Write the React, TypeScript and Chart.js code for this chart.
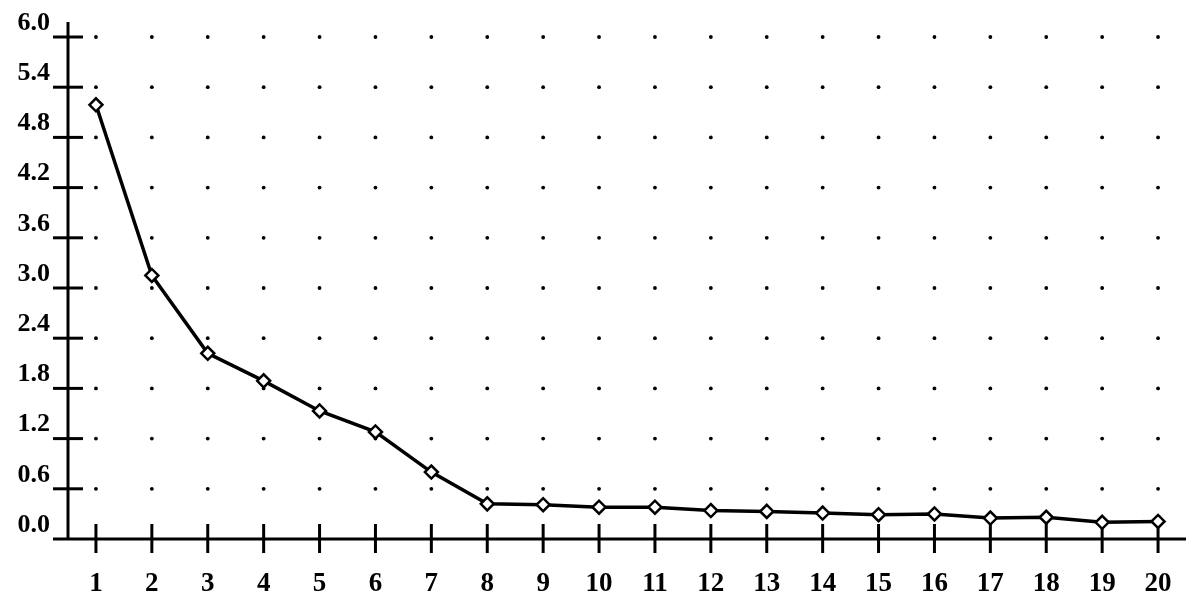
import { useEffect, useRef } from "react";
import { Chart, registerables } from "chart.js";

Chart.register(...registerables);

const components = ["1", "2", "3", "4", "5", "6", "7", "8", "9", "10", "11", "12", "13", "14", "15", "16", "17", "18", "19", "20"];
const eigenvalues = [5.19, 3.15, 2.22, 1.89, 1.53, 1.28, 0.8, 0.42, 0.41, 0.38, 0.38, 0.34, 0.33, 0.31, 0.29, 0.3, 0.25, 0.26, 0.2, 0.21];
const yTickValues = [0.0, 0.6, 1.2, 1.8, 2.4, 3.0, 3.6, 4.2, 4.8, 5.4, 6.0];

const dotAxesPlugin = {
  id: "dotAxes",
  beforeDatasetsDraw(chart: any) {
    const { ctx, scales } = chart;
    const xs = scales.x;
    const ys = scales.y;
    const left = chart.chartArea.left;
    const right = chart.chartArea.right;
    const y0 = ys.getPixelForValue(0);
    const yTop = ys.getPixelForValue(6.0);
    ctx.save();
    ctx.fillStyle = "#000";
    ctx.strokeStyle = "#000";
    // grid dots
    for (let i = 0; i < components.length; i++) {
      const px = xs.getPixelForValue(i);
      for (const v of yTickValues) {
        if (v === 0) continue;
        const py = ys.getPixelForValue(v);
        ctx.beginPath();
        ctx.arc(px, py, 1.9, 0, Math.PI * 2);
        ctx.fill();
      }
    }
    // y axis line
    ctx.lineWidth = 3;
    ctx.beginPath();
    ctx.moveTo(left, yTop - 15);
    ctx.lineTo(left, y0);
    ctx.stroke();
    // x axis line
    ctx.beginPath();
    ctx.moveTo(left - 15, y0);
    ctx.lineTo(right, y0);
    ctx.stroke();
    // y ticks (crossing)
    for (const v of yTickValues) {
      if (v === 0) continue;
      const py = ys.getPixelForValue(v);
      ctx.beginPath();
      ctx.moveTo(left - 15, py);
      ctx.lineTo(left + 15, py);
      ctx.stroke();
    }
    // x ticks (crossing)
    for (let i = 0; i < components.length; i++) {
      const px = xs.getPixelForValue(i);
      ctx.beginPath();
      ctx.moveTo(px, y0 - 15);
      ctx.lineTo(px, y0 + 14);
      ctx.stroke();
    }
    ctx.restore();
  },
};

export default function App() {
  const canvasRef = useRef<HTMLCanvasElement | null>(null);

  useEffect(() => {
    if (!canvasRef.current) return;
    const chart = new Chart(canvasRef.current, {
      type: "line",
      data: {
        labels: components,
        datasets: [
          {
            data: eigenvalues,
            borderColor: "#000",
            borderWidth: 3.5,
            pointStyle: "rectRot",
            pointRadius: 6.5,
            pointBorderWidth: 2.5,
            pointBackgroundColor: "#fff",
            pointBorderColor: "#000",
            tension: 0,
          },
        ],
      },
      options: {
        animation: false,
        responsive: true,
        maintainAspectRatio: false,
        layout: { padding: { top: 37, right: 8, left: 0, bottom: 0 } },
        plugins: {
          legend: { display: false },
          tooltip: { enabled: false },
        },
        scales: {
          x: {
            type: "category",
            offset: true,
            grid: { display: false },
            border: { display: false },
            ticks: {
              color: "#000",
              padding: 21,
              maxRotation: 0,
              autoSkip: false,
              font: { family: "Liberation Serif", size: 27, weight: "bold" },
            },
            afterFit: (scale: any) => {
              scale.height = 55;
            },
          },
          y: {
            type: "linear",
            min: 0,
            max: 6,
            grid: { display: false },
            border: { display: false },
            afterBuildTicks: (scale: any) => {
              scale.ticks = yTickValues.map((v) => ({ value: v }));
            },
            ticks: {
              color: "#000",
              padding: 10,
              labelOffset: -14,
              font: { family: "Liberation Serif", size: 26, weight: "bold" },
              callback: (v: any) => Number(v).toFixed(1),
            },
            afterFit: (scale: any) => {
              scale.width = 68;
            },
          },
        },
      },
      plugins: [dotAxesPlugin],
    });
    return () => chart.destroy();
  }, []);

  return (
    <div style={{ position: "absolute", left: 0, top: 0, width: 1195, height: 594, background: "#fff" }}>
      <canvas ref={canvasRef} />
    </div>
  );
}
